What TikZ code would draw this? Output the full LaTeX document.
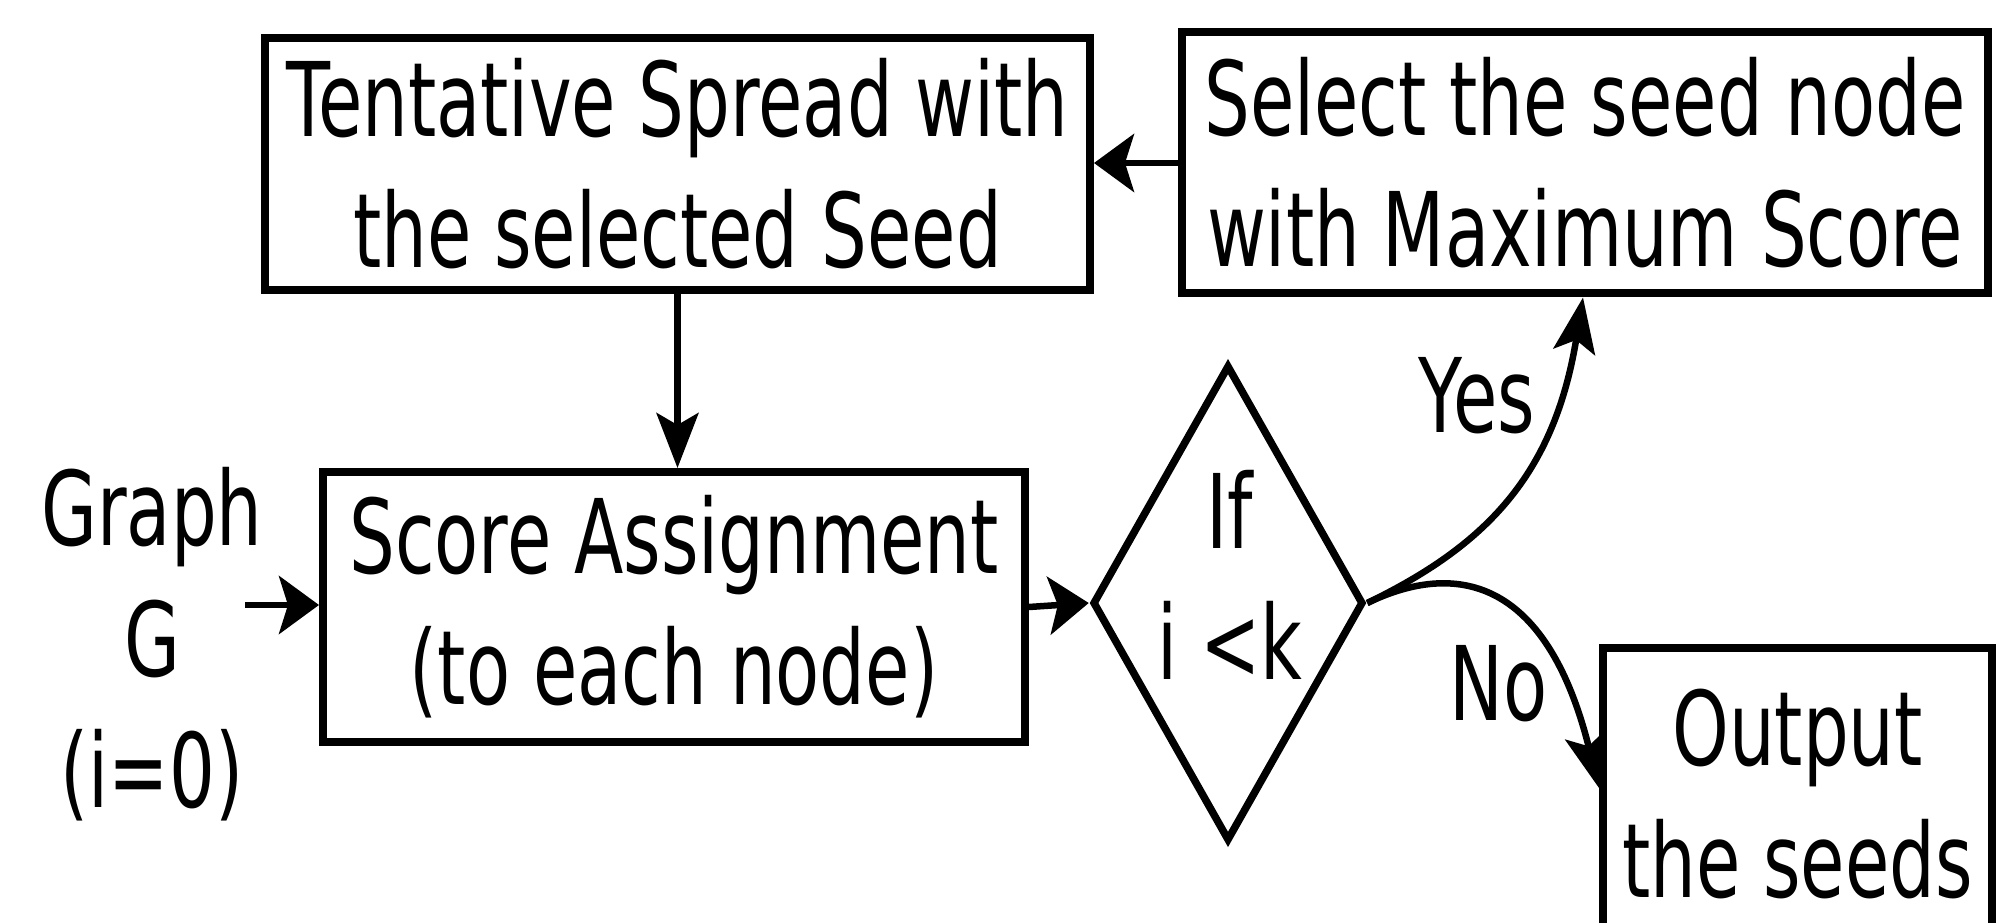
\documentclass[tikz,border=0pt]{standalone}
\usepackage{fontspec}
\setmainfont{DejaVu Sans}[FakeStretch=0.70]
\usetikzlibrary{arrows.meta,shapes.geometric}

\begin{document}
\begin{tikzpicture}[x=1pt,y=1pt,
  txt/.style={font=\fontsize{103}{131}\selectfont, align=center, inner sep=0pt},
  stepbox/.style={txt, draw, rectangle, line width=8pt},
  decision/.style={draw, diamond, line width=7.5pt, inner sep=0pt, aspect=0.569},
  bigarrow/.style={line width=6.5pt, -{Stealth[length=40pt,width=58pt,inset=9pt]}},
  slimarrow/.style={line width=6.5pt, -{Stealth[length=55pt,width=42pt,inset=12pt]}},
]
\useasboundingbox (0,0) rectangle (1996,922);
\clip (0,0) rectangle (1996,922);

% process boxes
\node[stepbox, minimum width=825pt, minimum height=252pt] (tsp) at (677.5,758)
  {Tentative Spread with\\the selected Seed};
\node[stepbox, minimum width=806pt, minimum height=261pt] (sel) at (1585,759)
  {Select the seed node\\with Maximum Score};
\node[stepbox, minimum width=702pt, minimum height=270pt] (sa) at (674,315)
  {Score Assignment\\(to each node)};
\node[stepbox, minimum width=389pt, minimum height=292pt] (outp) at (1797.5,128)
  {Output\\the seeds};

% decision
\node[decision, minimum width=271pt, minimum height=476pt] (dia) at (1228,319) {};
\node[txt] (ifk) at (1230,347) {If\\i <k};

% input and branch labels
\node[txt] (graph) at (152,277.5) {Graph\\G\\(i=0)};
\node[txt] (yes) at (1477,526) {Yes};
\node[txt] (no) at (1499,238) {No};

% helper points for free ends
\coordinate (gin) at (245,317);
\coordinate (yx) at (1583,0);
\coordinate (noy) at (0,134);

% connectors
\draw[bigarrow] (gin) -- (gin -| sa.west);
\draw[bigarrow] (sa.east) -- (dia.west);
\draw[bigarrow] (sel.west) -- (sel.west -| tsp.east);
\draw[slimarrow] (tsp.south) -- (tsp.south |- sa.north);
\draw[slimarrow] (dia.east) .. controls (1485,376) and (1554,446) .. (sel.south -| yx);
\draw[slimarrow] (dia.east) .. controls (1454,361) and (1546,346) .. (outp.west |- noy);
\end{tikzpicture}
\end{document}
